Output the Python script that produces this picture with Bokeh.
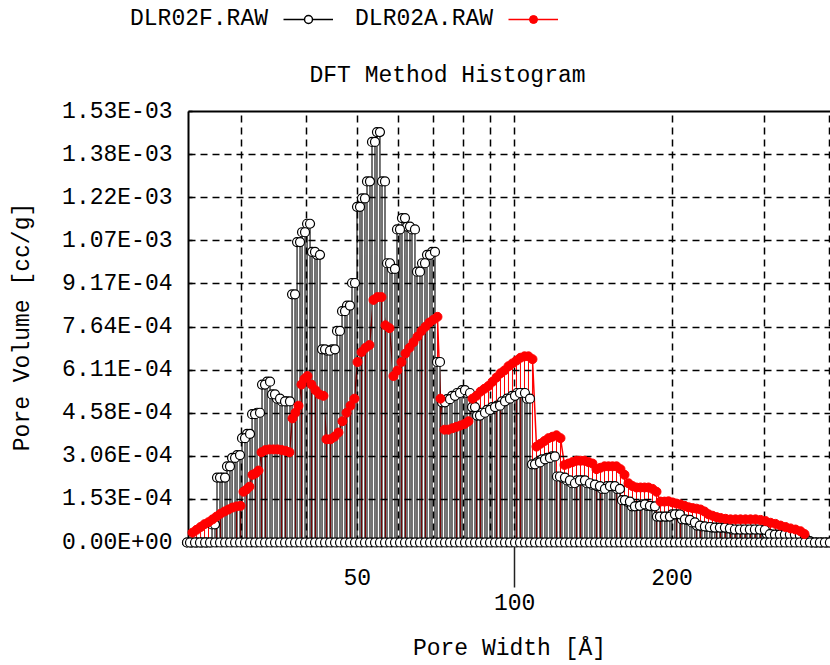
import numpy as np
from bokeh.plotting import figure
from bokeh.models import (Range1d, FixedTicker, LogAxis, Legend, LegendItem,
                          ColumnDataSource, Title)
from bokeh.embed import file_html
from bokeh.resources import INLINE

# ---------------- data ----------------
# DLR02F.RAW : pore width [Å] and pore volume [1e-4 cc/g]
black_width = [23.79, 24.32, 24.86, 25.42, 25.98, 26.56, 27.15, 27.76, 28.37, 29.01,
               29.65, 30.31, 30.99, 31.68, 32.38, 33.10, 33.84, 34.59, 35.36, 36.15,
               36.95, 37.78, 38.62, 39.48, 40.36, 41.25, 42.17, 43.11, 44.07, 45.05,
               46.05, 47.08, 48.12, 49.19, 50.29, 51.40, 52.55, 53.72, 54.91, 56.14,
               57.39, 58.66, 59.97, 61.30, 62.67, 64.06, 65.49, 66.95, 68.44, 69.96,
               71.52, 73.11, 74.74, 76.40, 78.10, 79.84, 81.62, 83.44, 85.29, 87.19,
               89.13, 91.12, 93.14, 95.22, 97.33, 99.50, 101.71, 103.97, 106.29, 108.65,
               111.07, 113.54, 116.07, 118.65, 121.29, 123.99, 126.75, 129.57, 132.45, 135.40,
               138.41, 141.49, 144.64, 147.86, 151.15, 154.51, 157.95, 161.46, 165.05, 168.73,
               172.48, 176.32, 180.24, 184.25, 188.35, 192.54, 196.83, 201.21, 205.68, 210.26,
               214.94, 219.72, 224.61, 229.61, 234.71, 239.94, 245.28, 250.74, 256.32, 262.02,
               267.85, 273.81, 279.90, 286.13, 292.50, 299.01, 305.66, 312.46, 319.41, 326.52,
               333.79, 341.21, 348.81, 356.57, 364.50, 372.61, 380.90, 389.38, 398.04]
black_vol = [0, 0, 0, 0, 0, 0.64, 2.3, 2.3, 2.7, 3.0,
             3.1, 3.7, 3.85, 4.55, 4.6, 5.6, 5.7, 5.25, 5.1, 5.0,
             5.0, 8.8, 10.65, 11.0, 11.3, 10.3, 10.2, 6.85, 6.8, 6.85,
             7.5, 8.2, 8.4, 9.2, 11.9, 12.2, 12.8, 14.2, 14.55, 12.8,
             9.9, 9.7, 11.1, 11.5, 11.2, 11.1, 9.6, 9.9, 10.2, 10.3,
             6.4, 4.97, 5.08, 5.2, 5.3, 5.4, 5.3, 4.8, 4.5, 4.6,
             4.7, 4.8, 4.85, 5.0, 5.1, 5.2, 5.3, 5.3, 5.1, 2.77,
             2.84, 2.95, 3.0, 3.05, 2.34, 2.3, 2.2, 2.1, 2.2, 2.2,
             2.1, 2.05, 2.0, 1.9, 2.0, 2.0, 1.9, 1.5, 1.45, 1.28,
             1.3, 1.35, 1.3, 1.28, 0.92, 0.92, 0.92, 1.0, 1.0, 0.82,
             0.8, 0.71, 0.6, 0.57, 0.55, 0.53, 0.53, 0.53, 0.5, 0.46,
             0.46, 0.46, 0.46, 0.46, 0.46, 0.45, 0.3, 0.28, 0.28, 0.28,
             0.28, 0.28, 0.25, 0.2, 0.05, 0, 0, 0, 0]

# DLR02A.RAW : pore width [Å] and pore volume [1e-4 cc/g]
red_width = [24.21, 24.65, 25.09, 25.53, 25.98, 26.45, 26.92, 27.39, 27.88, 28.37,
             28.88, 29.39, 29.92, 30.31, 30.72, 31.12, 31.53, 31.95, 32.38, 32.81,
             33.39, 33.98, 34.59, 35.20, 35.83, 36.46, 37.11, 37.60, 38.10, 38.61,
             39.12, 39.64, 40.17, 40.88, 41.61, 42.35, 43.10, 43.67, 44.45, 45.24,
             46.04, 46.86, 47.70, 48.54, 49.41, 50.07, 50.96, 51.86, 52.78, 53.72,
             54.67, 55.64, 56.63, 57.64, 58.66, 59.70, 60.76, 61.84, 62.94, 64.06,
             65.20, 66.35, 67.53, 68.73, 69.96, 71.20, 72.14, 73.43, 74.73, 76.06,
             77.41, 78.79, 80.19, 81.61, 83.06, 84.54, 86.04, 87.57, 89.13, 90.71,
             92.32, 93.97, 95.64, 97.33, 99.06, 100.82, 102.61, 104.44, 106.29, 108.18,
             110.11, 112.06, 114.05, 116.08, 118.14, 120.24, 122.38, 124.55, 126.77, 129.02,
             131.31, 133.65, 136.02, 138.44, 140.90, 143.40, 145.95, 148.54, 151.18, 153.87,
             156.60, 159.38, 162.22, 165.10, 168.03, 171.02, 174.06, 177.15, 180.30, 183.50,
             186.76, 190.08, 193.46, 196.90, 200.40, 203.96, 207.58, 211.27, 215.02, 218.85,
             222.73, 226.69, 230.72, 234.82, 239.00, 243.24, 247.56, 253.07, 258.71, 264.46,
             270.35, 276.37, 282.52, 288.81, 295.24, 301.81, 308.53, 315.40, 322.42, 329.60,
             336.93, 344.43, 352.10, 358.35]
red_vol = [0.35, 0.45, 0.55, 0.65, 0.72, 0.82, 0.92, 1.02, 1.1, 1.17,
           1.24, 1.28, 1.3, 1.8, 1.88, 1.98, 2.4, 2.45, 2.55, 3.2,
           3.28, 3.3, 3.3, 3.3, 3.28, 3.25, 3.2, 4.4, 4.6, 4.85,
           5.6, 5.8, 5.9, 5.6, 5.4, 5.25, 5.2, 3.66, 3.66, 3.75,
           3.9, 4.3, 4.6, 4.85, 5.1, 6.4, 6.75, 6.9, 7.0, 8.6,
           8.7, 8.7, 7.7, 7.6, 5.9, 6.1, 6.4, 6.7, 6.9, 7.1,
           7.3, 7.5, 7.65, 7.8, 7.9, 8.0, 5.1, 4.0, 4.0, 4.05,
           4.1, 4.15, 4.2, 4.3, 5.1, 5.2, 5.35, 5.45, 5.55, 5.7,
           5.85, 6.0, 6.1, 6.25, 6.35, 6.45, 6.55, 6.6, 6.6, 6.5,
           3.4, 3.5, 3.6, 3.7, 3.75, 3.8, 3.7, 2.75, 2.8, 2.85,
           2.9, 2.9, 2.9, 2.85, 2.8, 2.6, 2.65, 2.7, 2.7, 2.7,
           2.7, 2.6, 2.4, 2.1, 2.0, 1.95, 1.95, 1.95, 1.95, 1.9,
           1.8, 1.45, 1.45, 1.46, 1.42, 1.38, 1.35, 1.3, 1.25, 1.22,
           1.2, 1.17, 1.1, 1.0, 0.95, 0.9, 0.87, 0.84, 0.82, 0.82,
           0.82, 0.82, 0.82, 0.82, 0.8, 0.76, 0.7, 0.66, 0.6, 0.55,
           0.5, 0.46, 0.4, 0.3]

series_names = ["DLR02F.RAW", "DLR02A.RAW"]
title_text = "DFT Method Histogram"
y_ticks = [0, 1.528e-4, 3.056e-4, 4.584e-4, 6.112e-4, 7.64e-4, 9.168e-4,
           1.0696e-3, 1.2224e-3, 1.3752e-3, 1.528e-3]
y_tick_labels = ["0.00E+00", "1.53E-04", "3.06E-04", "4.58E-04", "6.11E-04",
                 "7.64E-04", "9.17E-04", "1.07E-03", "1.22E-03", "1.38E-03", "1.53E-03"]
x_upper_ticks = [50, 200]
x_upper_labels = ["50", "200"]
x_lower_ticks = [100]
x_lower_labels = ["100"]
x_grid_ticks = [30, 40, 50, 60, 70, 80, 90, 100, 200, 300, 400]

FONT = "Liberation Mono"
FS = "23px"
SCALE = 1e-4
RED = "#ff0000"

bw = np.array(black_width)
bv = np.array(black_vol) * SCALE
rw = np.array(red_width)
rv = np.array(red_vol) * SCALE
half = 1.0066

# ---------------- main figure ----------------
p = figure(width=830, height=632, x_axis_type="log", title=None,
           x_range=Range1d(23.79, 401.8), y_range=Range1d(0, y_ticks[-1]),
           output_backend="svg", toolbar_location=None,
           min_border_left=188, min_border_right=0, min_border_top=78,
           min_border_bottom=123, outline_line_color=None)

bsrc = ColumnDataSource(dict(x=bw, left=bw / half, right=bw * half, top=bv,
                             base=np.zeros_like(bv)))
rsrc = ColumnDataSource(dict(x=rw, top=rv, base=np.zeros_like(rv)))

# red series: connecting line + stems (behind the black bars)
p.line(x="x", y="top", source=rsrc, line_color=RED, line_width=1.5)
p.segment(x0="x", y0="base", x1="x", y1="top", source=rsrc, line_color=RED, line_width=1)
# black series: histogram bars
p.quad(left="left", right="right", bottom="base", top="top", source=bsrc,
       fill_color="white", line_color="black", line_width=1.1)

# black open markers at the bar corners
mk = ColumnDataSource(dict(
    x=np.concatenate([bw / half, bw * half, bw / half, bw * half]),
    y=np.concatenate([bv, bv, np.zeros_like(bv), np.zeros_like(bv)])))
p.scatter(x="x", y="y", source=mk, marker="circle", size=9, fill_color="white",
          line_color="black", line_width=1.2, level="annotation")
# red filled markers
p.scatter(x="x", y="top", source=rsrc, marker="circle", size=9, fill_color=RED,
          line_color=RED, level="annotation")

# dashed grid drawn over the bars
p.xgrid.ticker = FixedTicker(ticks=x_grid_ticks)
p.ygrid.ticker = FixedTicker(ticks=y_ticks[1:-1])
for g in (p.xgrid[0], p.ygrid[0]):
    g.grid_line_color = "black"
    g.grid_line_dash = "7 5"
    g.grid_line_width = 1.5
    g.level = "guide"

# left axis
ya = p.yaxis[0]
ya.ticker = FixedTicker(ticks=y_ticks)
ya.major_label_overrides = dict(zip(y_ticks, y_tick_labels))
ya.minor_tick_line_color = None
ya.major_tick_in = 4
ya.major_tick_out = 0
ya.major_tick_line_width = 1.5
ya.axis_line_width = 2
ya.major_label_standoff = 16
ya.axis_label = "Pore Volume [cc/g]"
ya.axis_label_standoff = 23

# bottom axis (nearest): frame line + long tick and staggered label at 100
xa = p.xaxis[0]
xa.ticker = FixedTicker(ticks=x_lower_ticks)
xa.major_label_overrides = dict(zip(x_lower_ticks, x_lower_labels))
xa.major_tick_in = 1
xa.major_tick_out = 45
xa.major_tick_line_color = "#222222"
xa.major_tick_line_width = 1.5
xa.minor_tick_line_color = None
xa.axis_line_width = 2
xa.major_label_standoff = 6

# bottom axis (outer): labels 50 / 200 and the axis title
xb = LogAxis(ticker=FixedTicker(ticks=x_upper_ticks),
             major_label_overrides=dict(zip(x_upper_ticks, x_upper_labels)),
             major_tick_in=0, major_tick_out=0, major_tick_line_color=None,
             minor_tick_line_color=None, axis_line_color=None,
             major_label_standoff=-44, axis_label="Pore Width [Å]", axis_label_standoff=48)
p.add_layout(xb, "below")

for ax in (xa, xb, ya):
    ax.major_label_text_font = FONT
    ax.major_label_text_font_size = FS
    ax.major_label_text_color = "black"
    ax.axis_label_text_font = FONT
    ax.axis_label_text_font_size = FS
    ax.axis_label_text_font_style = "normal"
    ax.axis_label_text_color = "black"
xa.axis_line_color = "black"
ya.axis_line_color = "black"

# top border as an axis without ticks
top_ax = LogAxis(ticker=FixedTicker(ticks=[]), axis_line_width=2, axis_line_color="black",
                 major_tick_out=0, major_tick_in=0, minor_tick_out=0, minor_tick_in=0,
                 major_label_text_font_size="0px", major_label_standoff=0)
p.add_layout(top_ax, "above")

# chart title
p.add_layout(Title(text=title_text, align="left", offset=121, standoff=46,
                   text_font=FONT, text_font_size=FS, text_font_style="normal",
                   text_color="black"), "above")

# ---------------- header (separate root) with the legend ----------------
h = figure(width=830, height=33, x_range=Range1d(0, 1), y_range=Range1d(0, 1),
           min_border=0, toolbar_location=None, output_backend="svg",
           outline_line_color=None, x_axis_location=None, y_axis_location=None)
h.grid.visible = False
# series renderers used only as legend keys (their data lies outside this strip's ranges)
hb_line = h.line(x=bw, y=bv, line_color="black", line_width=1.5)
hb_mk = h.scatter(x=bw, y=bv, marker="circle", size=9, fill_color="white",
                  line_color="black", line_width=1.5)
hr_line = h.line(x=rw, y=rv, line_color=RED, line_width=1.5)
hr_mk = h.scatter(x=rw, y=rv, marker="circle", size=9, fill_color=RED, line_color=RED)

legend = Legend(items=[LegendItem(label=series_names[0], renderers=[]),
                       LegendItem(label=series_names[1], renderers=[hb_line, hb_mk]),
                       LegendItem(label=" ", renderers=[hr_line, hr_mk])],
                orientation="horizontal", location=(58, 1),
                glyph_width=50, glyph_height=20, label_standoff=22, spacing=15,
                padding=0, margin=0, border_line_color=None, background_fill_alpha=0,
                label_text_font=FONT, label_text_font_size=FS, label_text_color="black")
h.add_layout(legend, "center")

open("out.html", "w").write(file_html((h, p), INLINE))
